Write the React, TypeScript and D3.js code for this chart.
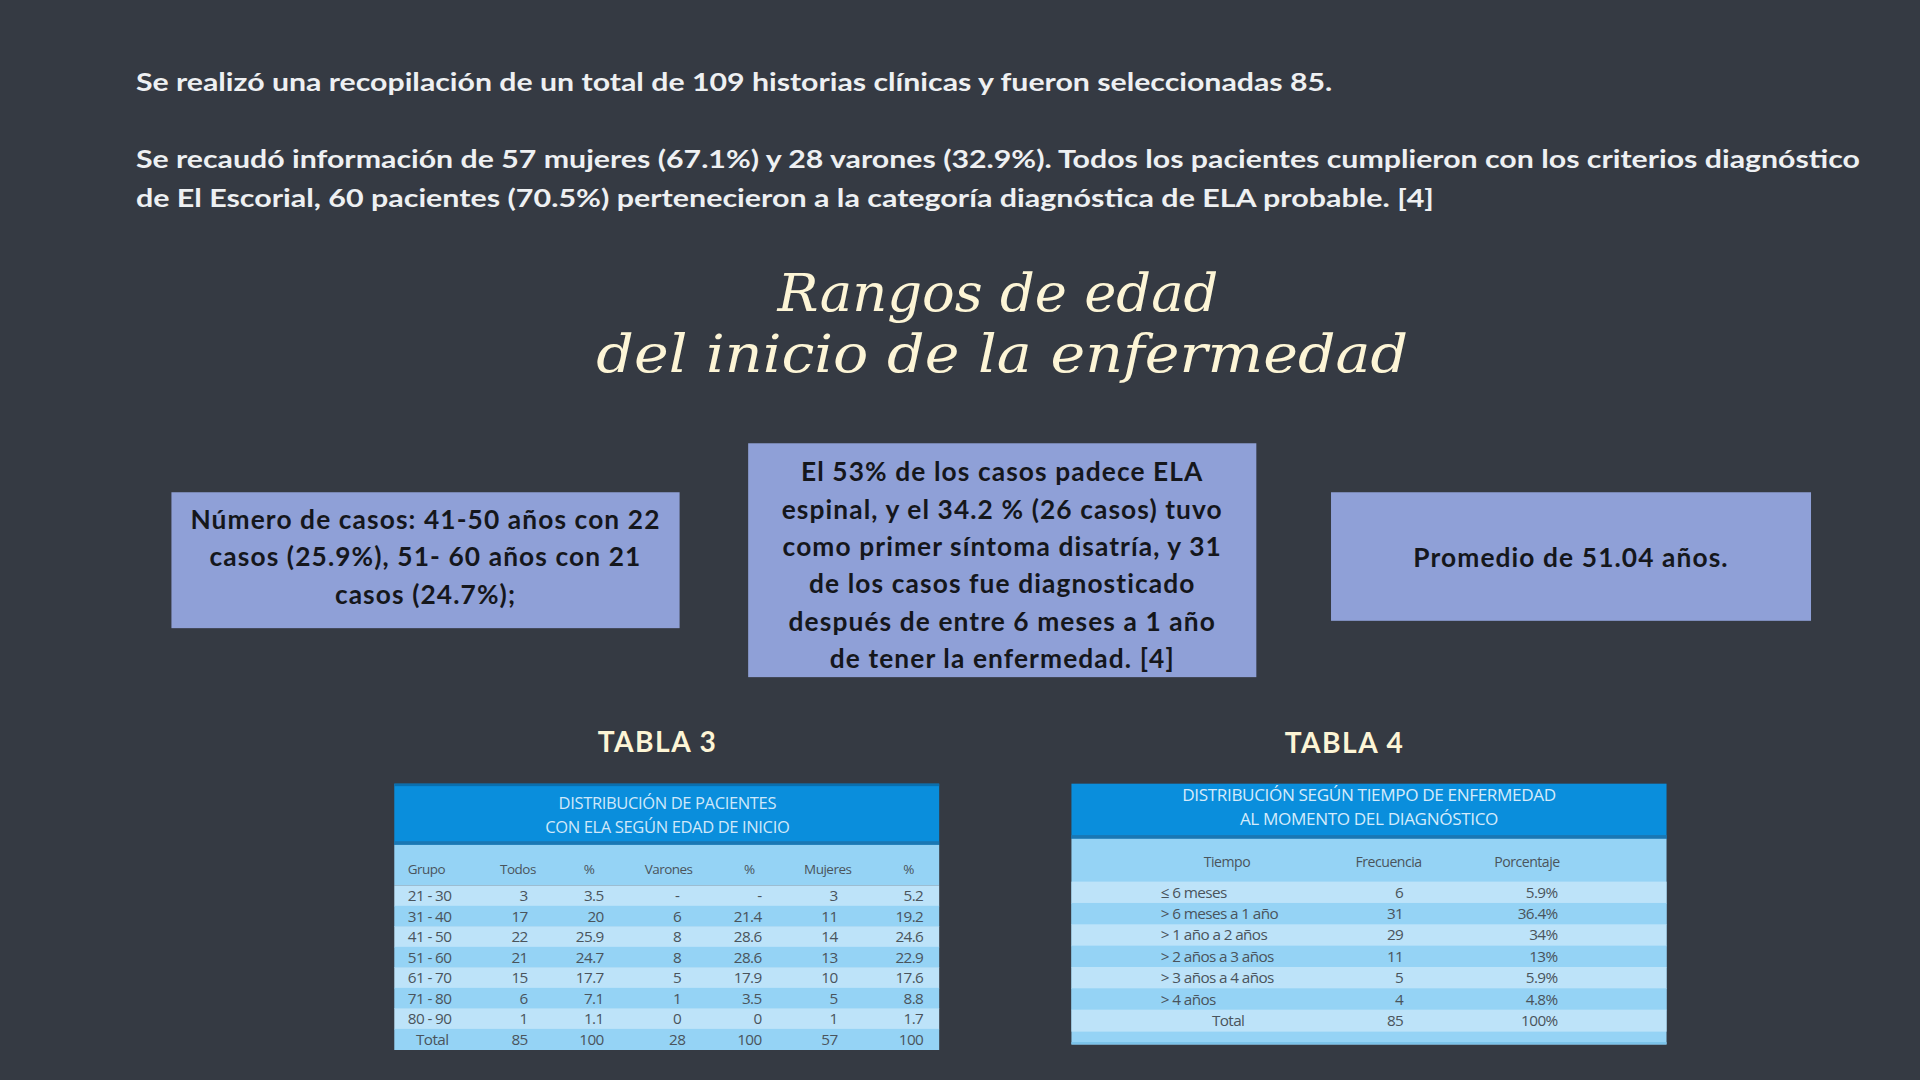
import * as d3 from 'd3';

// Texto superior
const introLines = [
  'Se realizó una recopilación de un total de 109 historias clínicas y fueron seleccionadas 85.',
  'Se recaudó información de 57 mujeres (67.1%) y 28 varones (32.9%). Todos los pacientes cumplieron con los criterios diagnóstico',
  'de El Escorial, 60 pacientes (70.5%) pertenecieron a la categoría diagnóstica de ELA probable. [4]',
];

const titleLines = ['Rangos de edad', 'del inicio de la enfermedad'];

const box1Lines = ['Número de casos: 41-50 años con 22', 'casos (25.9%), 51- 60 años con 21', 'casos (24.7%);'];
const box2Lines = [
  'El 53% de los casos padece ELA',
  'espinal, y el 34.2 % (26 casos) tuvo',
  'como primer síntoma disatría, y 31',
  'de los casos fue diagnosticado',
  'después de entre 6 meses a 1 año',
  'de tener la enfermedad. [4]',
];
const box3Lines = ['Promedio de 51.04 años.'];

// Tabla 3
const t3Title = ['DISTRIBUCIÓN DE PACIENTES', 'CON ELA SEGÚN EDAD DE INICIO'];
const t3Columns = ['Grupo', 'Todos', '%', 'Varones', '%', 'Mujeres', '%'];
const grupos = ['21 - 30', '31 - 40', '41 - 50', '51 - 60', '61 - 70', '71 - 80', '80 - 90', 'Total'];
const todos = ['3', '17', '22', '21', '15', '6', '1', '85'];
const todosPct = ['3.5', '20', '25.9', '24.7', '17.7', '7.1', '1.1', '100'];
const varones = ['-', '6', '8', '8', '5', '1', '0', '28'];
const varonesPct = ['-', '21.4', '28.6', '28.6', '17.9', '3.5', '0', '100'];
const mujeres = ['3', '11', '14', '13', '10', '5', '1', '57'];
const mujeresPct = ['5.2', '19.2', '24.6', '22.9', '17.6', '8.8', '1.7', '100'];

// Tabla 4
const t4Title = ['DISTRIBUCIÓN SEGÚN TIEMPO DE ENFERMEDAD', 'AL MOMENTO DEL DIAGNÓSTICO'];
const t4Columns = ['Tiempo', 'Frecuencia', 'Porcentaje'];
const tiempo = ['≤ 6 meses', '> 6 meses a 1 año', '> 1 año a 2 años', '> 2 años a 3 años', '> 3 años a 4 años', '> 4 años', 'Total'];
const frecuencia = ['6', '31', '29', '11', '5', '4', '85'];
const porcentaje = ['5.9%', '36.4%', '34%', '13%', '5.9%', '4.8%', '100%'];

const BG = '#353a43';
const BOX = '#8fa0d7';
const CREAM = '#fdf5d6';
const BLUE = '#0a8edc';
const ROW_DARK = '#95d3f5';
const ROW_LIGHT = '#bde3f9';
const CELL = '#4a545c';
const SANS = 'Lato, "Noto Sans", sans-serif';
const TABLE_FONT = '"Open Sans", Lato, sans-serif';

function TextBox({ x, y, w, h, lines, baseline, step }: any) {
  return (
    <g>
      <rect x={x} y={y} width={w} height={h} fill={BOX} />
      {lines.map((l: string, i: number) => (
        <text key={i} x={x + w / 2} y={baseline + i * step} textAnchor="middle" fontFamily={SANS} fontWeight={700} fontSize={21.5} letterSpacing={0.9} fill="#15171c">
          {l}
        </text>
      ))}
    </g>
  );
}

function Table3() {
  const x0 = 322, x1 = 767;
  const rows = d3.scaleBand<string>().domain(grupos).range([723, 857]);
  const cols: { values: string[]; x: number; anchor: string; head: number }[] = [
    { values: grupos, x: 333, anchor: 'start', head: 333 },
    { values: todos, x: 431, anchor: 'end', head: 423 },
    { values: todosPct, x: 493, anchor: 'end', head: 481 },
    { values: varones, x: 553, anchor: 'middle', head: 546 },
    { values: varonesPct, x: 622, anchor: 'end', head: 612 },
    { values: mujeres, x: 684, anchor: 'end', head: 676 },
    { values: mujeresPct, x: 754, anchor: 'end', head: 742 },
  ];
  return (
    <g>
      <rect x={x0} y={640} width={x1 - x0} height={50} fill={BLUE} />
      <rect x={x0} y={640} width={x1 - x0} height={2} fill="#0a6fae" />
      <rect x={x0} y={687} width={x1 - x0} height={3} fill="#1a77b3" />
      <rect x={x0} y={690} width={x1 - x0} height={33} fill={ROW_DARK} />
      {t3Title.map((t, i) => (
        <text key={i} x={545} y={661 + i * 19} textAnchor="middle" fontFamily={TABLE_FONT} fontSize={13.5} fill="#cfe8fa" letterSpacing={-0.3}>
          {t}
        </text>
      ))}
      {t3Columns.map((c, i) => (
        <text key={c + i} x={cols[i].head} y={714} textAnchor={i === 0 ? 'start' : 'middle'} fontFamily={TABLE_FONT} fontSize={11} fill={CELL} letterSpacing={-0.4}>
          {c}
        </text>
      ))}
      {grupos.map((g, r) => (
        <rect key={g} x={x0} y={rows(g)!} width={x1 - x0} height={rows.bandwidth() + 0.5} fill={r % 2 === 0 ? ROW_LIGHT : ROW_DARK} />
      ))}
      {grupos.map((g, r) =>
        cols.map((c, i) => (
          <text
            key={g + i}
            x={r === grupos.length - 1 && i === 0 ? 353 : c.x}
            y={rows(g)! + rows.bandwidth() / 2 + 4.5}
            textAnchor={r === grupos.length - 1 && i === 0 ? 'middle' : c.anchor}
            fontFamily={TABLE_FONT}
            fontSize={12.5}
            fill={CELL}
            letterSpacing={-0.5}
          >
            {c.values[r]}
          </text>
        ))
      )}
    </g>
  );
}

function Table4() {
  const x0 = 875, x1 = 1361;
  const rows = d3.scaleBand<string>().domain(tiempo).range([720, 842]);
  const cols = [
    { values: tiempo, x: 948, anchor: 'start', head: 1002 },
    { values: frecuencia, x: 1146, anchor: 'end', head: 1134 },
    { values: porcentaje, x: 1272, anchor: 'end', head: 1247 },
  ];
  return (
    <g>
      <rect x={x0} y={640} width={x1 - x0} height={45} fill={BLUE} />
      <rect x={x0} y={682} width={x1 - x0} height={3} fill="#1a77b3" />
      <rect x={x0} y={685} width={x1 - x0} height={168} fill={ROW_DARK} />
      {t4Title.map((t, i) => (
        <text key={i} x={1118} y={654 + i * 20} textAnchor="middle" fontFamily={TABLE_FONT} fontSize={14} fill="#d4ebfb" letterSpacing={-0.3}>
          {t}
        </text>
      ))}
      {t4Columns.map((c, i) => (
        <text key={c} x={cols[i].head} y={708} textAnchor="middle" fontFamily={TABLE_FONT} fontSize={11.5} fill={CELL} letterSpacing={-0.4}>
          {c}
        </text>
      ))}
      {tiempo.map((t, r) => (
        <rect key={t} x={x0} y={rows(t)!} width={x1 - x0} height={rows.bandwidth() + 0.5} fill={r % 2 === 0 ? ROW_LIGHT : ROW_DARK} />
      ))}
      {tiempo.map((t, r) =>
        cols.map((c, i) => (
          <text
            key={t + i}
            x={r === tiempo.length - 1 && i === 0 ? 1003 : c.x}
            y={rows(t)! + rows.bandwidth() / 2 + 4.5}
            textAnchor={r === tiempo.length - 1 && i === 0 ? 'middle' : c.anchor}
            fontFamily={TABLE_FONT}
            fontSize={12.5}
            fill={CELL}
            letterSpacing={-0.5}
          >
            {c.values[r]}
          </text>
        ))
      )}
      <rect x={x0} y={851} width={x1 - x0} height={2} fill="#7cc3ea" />
    </g>
  );
}

export default function App() {
  const introY = [74, 137, 169];
  const introW = [977, 1408, 1060];
  const titleY = [254, 304];
  const titleX = [[635, 995], [487, 1150]];
  return (
    <div style={{ position: 'fixed', left: 0, top: 0, width: 1920, height: 1080, background: BG }}>
      <svg width={1920} height={1080} viewBox="0 0 1568 882">
        <rect width={1568} height={882} fill={BG} />
        {introLines.map((l, i) => (
          <text key={i} x={111} y={introY[i]} fontFamily={SANS} fontWeight={700} fontSize={20.5} fill="#eef0f2" textLength={introW[i]} lengthAdjust="spacingAndGlyphs">
            {l}
          </text>
        ))}
        {titleLines.map((t, i) => (
          <text
            key={t}
            x={(titleX[i][0] + titleX[i][1]) / 2}
            y={titleY[i]}
            textAnchor="middle"
            fontFamily='"URW Chancery L", "Z003", cursive, "DejaVu Serif"'
            fontStyle="italic"
            fontSize={42}
            fill={CREAM}
            textLength={titleX[i][1] - titleX[i][0]}
            lengthAdjust="spacingAndGlyphs"
          >
            {t}
          </text>
        ))}
        <TextBox x={140} y={402} w={415} h={111} lines={box1Lines} baseline={432} step={30.5} />
        <TextBox x={611} y={362} w={415} h={191} lines={box2Lines} baseline={393} step={30.5} />
        <TextBox x={1087} y={402} w={392} h={105} lines={box3Lines} baseline={463} step={30} />
        <text x={537} y={614} textAnchor="middle" fontFamily={SANS} fontWeight={700} fontSize={23} letterSpacing={1.2} fill={CREAM}>TABLA 3</text>
        <text x={1098} y={615} textAnchor="middle" fontFamily={SANS} fontWeight={700} fontSize={23} letterSpacing={1.2} fill={CREAM}>TABLA 4</text>
        <Table3 />
        <Table4 />
      </svg>
    </div>
  );
}
